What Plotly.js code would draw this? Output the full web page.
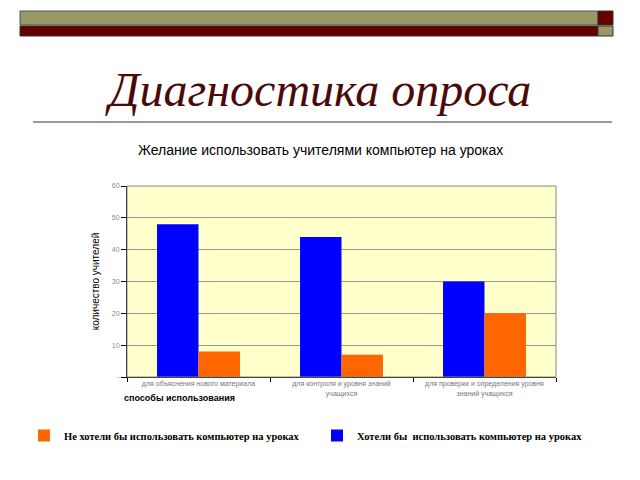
<!DOCTYPE html>
<html><head><meta charset="utf-8">
<script src="https://cdn.plot.ly/plotly-3.0.1.min.js"></script>
<style>body{margin:0;background:#fff}#c{width:640px;height:480px}</style>
</head><body><div id="c"></div>
<script>
var categories = ["для объяснения нового материала", "для контроля и уровня знаний<br>учащихся", "для проверки и определения уровня<br>знаний учащихся"];
var wantValues = [48, 44, 30];
var notWantValues = [8, 7, 20];
var yTickVals = [0, 10, 20, 30, 40, 50, 60];
var yTickText = ["-", "10", "20", "30", "40", "50", "60"];
var seriesNames = ["Хотели бы  использовать компьютер на уроках", "Не хотели бы использовать компьютер на уроках"];

var L = 127, R = 556, T = 186, B = 377;
function px(x){ return (x - L) / (R - L); }
function py(y){ return (B - y) / (B - T); }
function rect(x0,y0,x1,y1,fill,line){
  return {type:'rect', xref:'paper', yref:'paper', x0:px(x0), x1:px(x1), y0:py(y1), y1:py(y0),
    fillcolor:fill, line:{color:line||fill, width:1}, layer:'above'};
}

var traces = [
  {type:'bar', x:categories, y:wantValues, name:seriesNames[0], marker:{color:'#0000FF', line:{color:'#0000FF', width:0}}, legend:'legend2'},
  {type:'bar', x:categories, y:notWantValues, name:seriesNames[1], marker:{color:'#FF6600', line:{color:'#FF6600', width:0}}, legend:'legend'}
];

var legFont = {family:'Liberation Serif', size:10.5, color:'#000', weight:'bold'};
var layout = {
  width:640, height:480,
  margin:{l:L, r:640-R, t:T, b:480-B, pad:0},
  paper_bgcolor:'#ffffff', plot_bgcolor:'#FFFFCC',
  barmode:'group', bargap:0.42, bargroupgap:0,
  showlegend:true,
  legend:{orientation:'h', x:px(24), y:py(421), xanchor:'left', yanchor:'top', font:legFont, itemwidth:30, bgcolor:'rgba(0,0,0,0)'},
  legend2:{orientation:'h', x:px(317), y:py(421), xanchor:'left', yanchor:'top', font:legFont, itemwidth:30, bgcolor:'rgba(0,0,0,0)'},
  xaxis:{type:'category', showline:true, linecolor:'#000', linewidth:1, mirror:false,
    ticks:'outside', tickson:'boundaries', ticklen:4, tickcolor:'#000',
    tickfont:{family:'Liberation Sans', size:7, color:'#777'}, showgrid:false, fixedrange:true},
  yaxis:{range:[0,60], tickvals:yTickVals, ticktext:yTickText, ticks:'outside', ticklen:5, tickcolor:'#000',
    showline:true, linecolor:'#000', linewidth:1, showgrid:true, gridcolor:'#999', gridwidth:1,
    tickfont:{family:'Liberation Sans', size:7, color:'#888'}, zeroline:false,
    title:{text:'количество учителей', font:{family:'Liberation Sans', size:10, color:'#000'}, standoff:10}},
  shapes:[
    rect(20,11,598,25,'#999966','#555555'),
    rect(598,11,613,25,'#660000','#333333'),
    rect(20,26,598,36,'#660000','#333333'),
    rect(598,26,613,36,'#999966','#333333'),
    {type:'line', xref:'paper', yref:'paper', x0:px(33), x1:px(612), y0:py(122), y1:py(122), line:{color:'#777', width:1.5}},
    {type:'rect', xref:'paper', yref:'paper', x0:0, x1:1, y0:0, y1:1, line:{color:'#888', width:1}, fillcolor:'rgba(0,0,0,0)', layer:'above'}
  ],
  annotations:[
    {text:'Диагностика опроса', xref:'paper', yref:'paper', x:px(318), y:py(89), xanchor:'center', yanchor:'middle', showarrow:false,
     font:{family:'Liberation Serif', size:48, color:'#4A0A0A', style:'italic'}},
    {text:'Желание использовать учителями компьютер на уроках', xref:'paper', yref:'paper', x:px(320), y:py(150), xanchor:'center', yanchor:'middle', showarrow:false,
     font:{family:'Liberation Sans', size:14, color:'#000'}},
    {text:'способы использования', xref:'paper', yref:'paper', x:px(122), y:py(398), xanchor:'left', yanchor:'middle', showarrow:false,
     font:{family:'Liberation Sans', size:9, color:'#000', weight:'bold'}}
  ]
};
Plotly.newPlot('c', traces, layout, {displayModeBar:false, staticPlot:true});
</script></body></html>
